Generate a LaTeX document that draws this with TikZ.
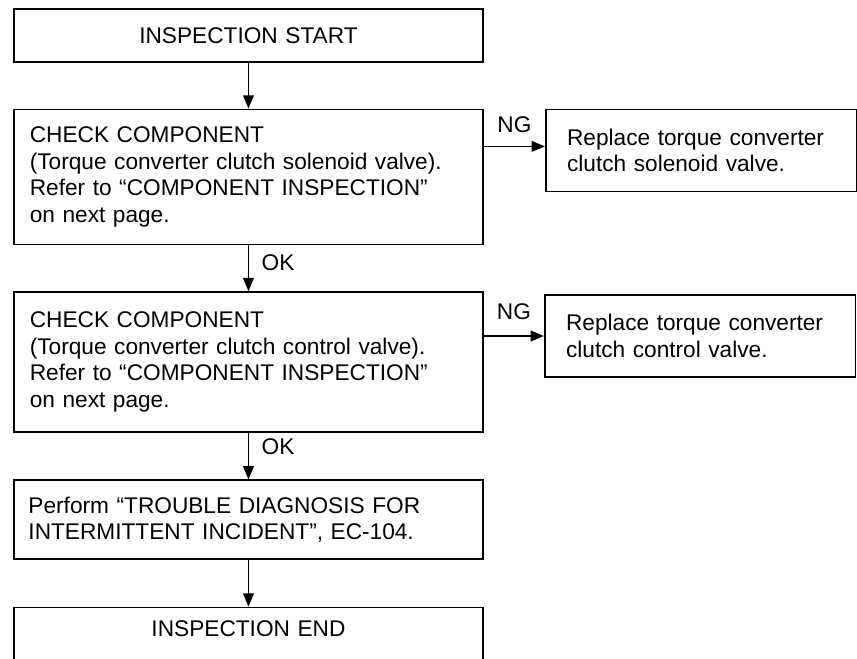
\documentclass[tikz,border=0pt]{standalone}
\usepackage{fontspec}
\setmainfont{Liberation Sans}
\usepackage{tikz}
\usetikzlibrary{positioning,arrows.meta}

\begin{document}
\begin{tikzpicture}[
    node distance=34.5pt,
    box/.style={draw, line width=1.2pt, minimum width=352pt, inner xsep=12pt, text width=328pt, align=left, font=\fontsize{17}{20}\selectfont},
    endbox/.style={box, align=center},
    fixbox/.style={draw, line width=1.2pt, minimum height=61.5pt, inner xsep=16pt, text width=201pt, align=left, font=\fontsize{17}{20}\selectfont},
    arrow/.style={-{Triangle[length=10pt, width=8pt]}, line width=1.2pt},
    lbl/.style={font=\fontsize{17}{20}\selectfont}
  ]
    \clip (0,0) rectangle (642.75pt,-493.5pt);
    \node[endbox, minimum height=39.75pt, anchor=north west] (start) at (9.75pt,-6pt) {INSPECTION START};
    \node[box, minimum height=101.25pt, below=of start] (chk1) {CHECK COMPONENT\\(Torque converter clutch solenoid valve).\\Refer to ``COMPONENT INSPECTION''\\on next page.};
    \node[box, minimum height=105pt, below=of chk1] (chk2) {CHECK COMPONENT\\(Torque converter clutch control valve).\\Refer to ``COMPONENT INSPECTION''\\on next page.};
    \node[box, minimum height=59.25pt, inner xsep=11pt, text width=330pt, below=35pt of chk2] (diag) {Perform ``TROUBLE DIAGNOSIS FOR\\INTERMITTENT INCIDENT'', EC-104.};
    \node[endbox, inner ysep=0pt, text height=21.5pt, text depth=60pt, below=35pt of diag] (fin) {INSPECTION END};
    \node[fixbox, right=45.75pt of chk1.north east, anchor=north west] (rep1) {Replace torque converter\\clutch solenoid valve.};
    \node[fixbox, right=45pt of chk2.north east, anchor=north west, yshift=-2.25pt] (rep2) {Replace torque converter\\clutch control valve.};
    % main line
    \draw[arrow] (start) -- (chk1);
    \draw[arrow] (chk1) -- node[lbl, right, xshift=6pt, yshift=4pt]{OK} (chk2);
    \draw[arrow] (chk2) -- node[lbl, right, xshift=6pt, yshift=7pt]{OK} (diag);
    \draw[arrow] (diag) -- (fin);
    % NG branches
    \draw[arrow] ([yshift=3pt]rep1.west -| chk1.east) -- node[lbl, above, yshift=6pt]{NG} ([yshift=3pt]rep1.west);
    \draw[arrow] (rep2.west -| chk2.east) -- node[lbl, above, yshift=8pt]{NG} (rep2.west);
  \end{tikzpicture}
\end{document}
